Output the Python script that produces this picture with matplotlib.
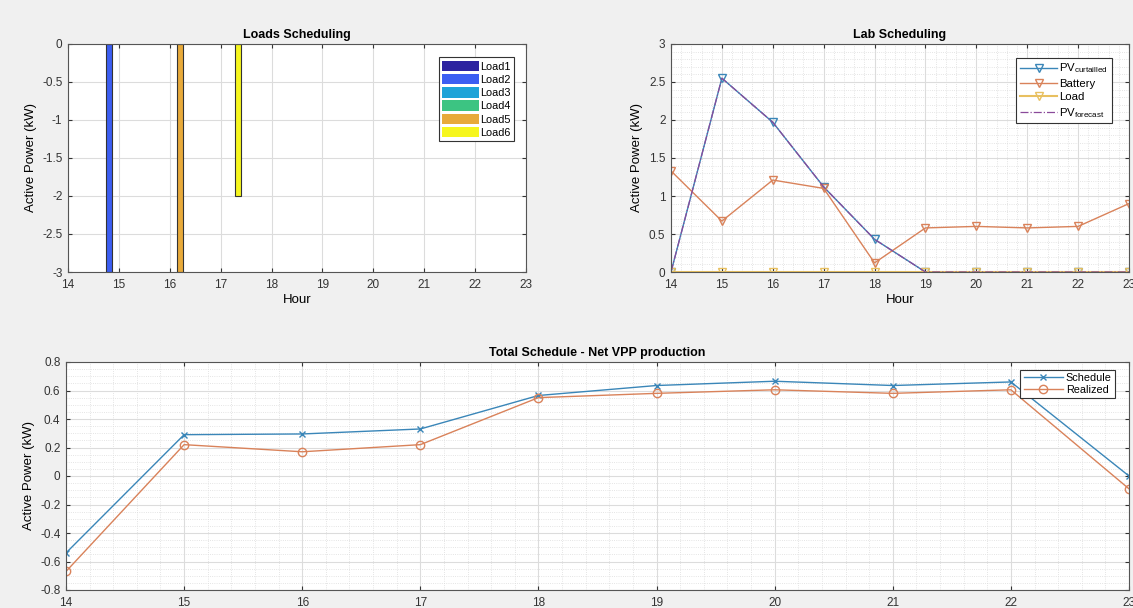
import numpy as np
import matplotlib.pyplot as plt
from matplotlib.ticker import MultipleLocator, FuncFormatter

plt.rcParams['font.family'] = ['Liberation Sans', 'DejaVu Sans']

hours = [14, 15, 16, 17, 18, 19, 20, 21, 22, 23]

# loads scheduling (kW), one list per load, indexed by hour
load_names = ["Load1", "Load2", "Load3", "Load4", "Load5", "Load6"]
load1 = [0, 0, 0, 0, 0, 0, 0, 0, 0, 0]
load2 = [0, -3, 0, 0, 0, 0, 0, 0, 0, 0]
load3 = [0, 0, 0, 0, 0, 0, 0, 0, 0, 0]
load4 = [0, 0, 0, 0, 0, 0, 0, 0, 0, 0]
load5 = [0, 0, -3, 0, 0, 0, 0, 0, 0, 0]
load6 = [0, 0, 0, -2, 0, 0, 0, 0, 0, 0]
load_colors = ['#2c22a0', '#3c5ef2', '#1ea3d8', '#3cc482', '#e8aa3a', '#f6f61e']

# lab scheduling
pv_curtailed = [0, 2.55, 1.97, 1.12, 0.43, 0, 0, 0, 0, 0]
battery = [1.33, 0.67, 1.21, 1.10, 0.12, 0.58, 0.60, 0.58, 0.60, 0.90]
lab_load = [0, 0, 0, 0, 0, 0, 0, 0, 0, 0]
pv_forecast = [0, 2.55, 1.97, 1.12, 0.43, 0, 0, 0, 0, 0]

# total schedule
schedule = [-0.54, 0.29, 0.295, 0.33, 0.565, 0.635, 0.665, 0.635, 0.66, 0.0]
realized = [-0.67, 0.22, 0.17, 0.22, 0.55, 0.58, 0.605, 0.58, 0.605, -0.09]

c_blue = '#3a86b8'
c_orange = '#d9825a'
c_yellow = '#e8c060'
c_purple = '#8a4a9a'

fig = plt.figure(figsize=(11.33, 6.08), dpi=100, facecolor='#f0f0f0')

fmt = FuncFormatter(lambda v, p: f"{v:g}".replace('\u2212', '-'))


def style(ax, minor=False):
    ax.set_facecolor('white')
    ax.tick_params(labelsize=8.5, length=3, direction='in', top=True, right=True,
                   colors='#333333')
    ax.tick_params(axis='x', pad=5)
    ax.tick_params(axis='y', pad=4)
    for s in ax.spines.values():
        s.set_color('#555555')
        s.set_linewidth(0.8)
    ax.grid(True, which='major', color='#dcdcdc', linewidth=0.8)
    if minor:
        ax.grid(True, which='minor', color='#dcdcdc', linewidth=0.6, linestyle=':')
        ax.tick_params(which='minor', length=0)
    ax.set_axisbelow(True)
    ax.yaxis.set_major_formatter(fmt)


# loads scheduling
ax1 = fig.add_axes([68 / 1133, 1 - 272 / 608, 458 / 1133, 228 / 608])
style(ax1)
loads = [load1, load2, load3, load4, load5, load6]
w = 0.8 / 6
x = np.array(hours)
for i, (vals, name, col) in enumerate(zip(loads, load_names, load_colors)):
    off = (i - 2.5) * w
    lw = [0.8 if v != 0 else 0 for v in vals]
    ax1.bar(x + off, vals, width=w * 0.9, color=col, edgecolor='#333333',
            linewidth=lw, label=name)
ax1.set_xlim(14, 23)
ax1.set_ylim(-3, 0)
ax1.xaxis.set_major_locator(MultipleLocator(1))
ax1.yaxis.set_major_locator(MultipleLocator(0.5))
ax1.set_title("Loads Scheduling", fontsize=9, fontweight='bold', pad=4)
ax1.set_xlabel("Hour", fontsize=9.5, labelpad=2)
ax1.set_ylabel("Active Power (kW)", fontsize=9.5)
leg = ax1.legend(loc='upper right', fontsize=7.8, handlelength=3.4, handleheight=1.1,
                 borderpad=0.3, labelspacing=0.22, handletextpad=0.1,
                 fancybox=False, framealpha=1, edgecolor='#333333',
                 bbox_to_anchor=(0.985, 0.965))
leg.get_frame().set_linewidth(0.8)

# lab scheduling
ax2 = fig.add_axes([671 / 1133, 1 - 272 / 608, 458 / 1133, 228 / 608])
style(ax2, minor=True)
ax2.plot(hours, pv_curtailed, color=c_blue, marker='v', mfc='none', ms=6, lw=1.0,
         label=r'PV$_{\mathregular{curtailled}}$')
ax2.plot(hours, battery, color=c_orange, marker='v', mfc='none', ms=6, lw=1.0,
         label='Battery')
ax2.plot(hours, lab_load, color=c_yellow, marker='v', mfc='none', ms=6, lw=1.5,
         label='Load')
ax2.plot(hours, pv_forecast, color=c_purple, linestyle='-.', lw=0.9,
         label=r'PV$_{\mathregular{forecast}}$')
ax2.set_xlim(14, 23)
ax2.set_ylim(0, 3)
ax2.xaxis.set_major_locator(MultipleLocator(1))
ax2.xaxis.set_minor_locator(MultipleLocator(0.2))
ax2.yaxis.set_major_locator(MultipleLocator(0.5))
ax2.yaxis.set_minor_locator(MultipleLocator(0.1))
ax2.set_title("Lab Scheduling", fontsize=9, fontweight='bold', pad=4)
ax2.set_xlabel("Hour", fontsize=9.5, labelpad=2)
ax2.set_ylabel("Active Power (kW)", fontsize=9.5)
leg2 = ax2.legend(loc='upper right', fontsize=8.2, handlelength=3.2,
                  borderpad=0.35, labelspacing=0.3, handletextpad=0.2,
                  fancybox=False, framealpha=1, edgecolor='#333333',
                  bbox_to_anchor=(0.975, 0.965))
leg2.get_frame().set_linewidth(0.8)

# total schedule
ax3 = fig.add_axes([66 / 1133, 1 - 590 / 608, 1063 / 1133, 228 / 608])
style(ax3, minor=True)
ax3.plot(hours, schedule, color=c_blue, marker='x', ms=5, lw=1.0, label='Schedule')
ax3.plot(hours, realized, color=c_orange, marker='o', mfc='none', ms=6, lw=1.0,
         label='Realized')
ax3.set_xlim(14, 23)
ax3.set_ylim(-0.8, 0.8)
ax3.xaxis.set_major_locator(MultipleLocator(1))
ax3.xaxis.set_minor_locator(MultipleLocator(0.2))
ax3.yaxis.set_major_locator(MultipleLocator(0.2))
ax3.yaxis.set_minor_locator(MultipleLocator(0.05))
ax3.set_title("Total Schedule - Net VPP production", fontsize=9, fontweight='bold', pad=4)
ax3.set_ylabel("Active Power (kW)", fontsize=9.5)
leg3 = ax3.legend(loc='upper right', fontsize=7.8, handlelength=3.6,
                  borderpad=0.3, labelspacing=0.2, handletextpad=0.3,
                  fancybox=False, framealpha=1, edgecolor='#333333',
                  bbox_to_anchor=(0.992, 0.99))
leg3.get_frame().set_linewidth(0.8)

fig.savefig("out.png", dpi=100, facecolor=fig.get_facecolor())
